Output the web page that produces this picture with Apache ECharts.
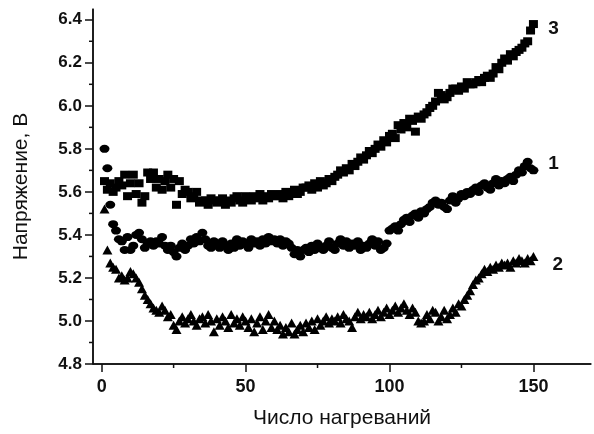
<!DOCTYPE html>
<html><head><meta charset="utf-8">
<script src="https://cdn.jsdelivr.net/npm/echarts@6/dist/echarts.min.js"></script>
<style>html,body{margin:0;padding:0;background:#fff}#c{width:594px;height:434px}</style>
</head><body><div id="c"></div>
<script>
// x: number of heating cycles (1..150)
var xStart = 1;
var xMin = -3, xMax = 170, yMin = 4.8, yMax = 6.45;
var xMajorTicks = [0, 50, 100, 150];
var xMinorTicks = [25, 75, 125];
var yMajorTicks = [4.8, 5.0, 5.2, 5.4, 5.6, 5.8, 6.0, 6.2, 6.4];
var yMinorTicks = [4.9, 5.1, 5.3, 5.5, 5.7, 5.9, 6.1, 6.3];
var curveLabels = ['3', '1', '2'];
var curveLabelAnchors = [[157, 6.36], [157, 5.73], [158.5, 5.26]];

// curve 3 (squares)
var series3 = [
 5.65,5.61,5.64,5.60,5.62,5.65,5.63,5.68,5.58,5.64,
 5.68,5.59,5.64,5.55,5.58,5.69,5.66,5.69,5.62,5.66,
 5.61,5.65,5.68,5.62,5.66,5.54,5.65,5.59,5.61,5.60,
 5.57,5.58,5.60,5.55,5.56,5.56,5.54,5.57,5.56,5.55,
 5.56,5.57,5.54,5.56,5.55,5.57,5.58,5.56,5.55,5.58,
 5.57,5.56,5.58,5.57,5.59,5.56,5.58,5.57,5.59,5.58,
 5.58,5.59,5.57,5.60,5.58,5.59,5.61,5.59,5.60,5.62,
 5.62,5.63,5.61,5.64,5.62,5.65,5.63,5.64,5.66,5.65,
 5.67,5.68,5.70,5.69,5.71,5.70,5.73,5.72,5.74,5.76,
 5.75,5.77,5.79,5.78,5.80,5.82,5.81,5.84,5.83,5.86,
 5.87,5.85,5.91,5.89,5.92,5.90,5.94,5.93,5.88,5.95,
 5.94,5.96,5.97,5.99,6.00,6.02,6.06,6.05,6.03,6.04,
 6.06,6.08,6.08,6.07,6.09,6.08,6.11,6.10,6.10,6.11,
 6.12,6.11,6.13,6.14,6.13,6.15,6.18,6.17,6.20,6.22,
 6.21,6.24,6.23,6.25,6.26,6.27,6.29,6.30,6.35,6.38
];
// curve 1 (circles)
var series1 = [
 5.80,5.71,5.54,5.45,5.42,5.38,5.37,5.33,5.39,5.33,
 5.35,5.40,5.41,5.38,5.34,5.36,5.37,5.35,5.37,5.36,
 5.39,5.35,5.33,5.35,5.32,5.30,5.34,5.36,5.33,5.35,
 5.38,5.36,5.39,5.37,5.41,5.38,5.35,5.34,5.37,5.36,
 5.34,5.37,5.35,5.33,5.36,5.34,5.38,5.35,5.37,5.36,
 5.34,5.38,5.36,5.37,5.35,5.38,5.36,5.39,5.37,5.38,
 5.36,5.38,5.35,5.37,5.36,5.34,5.31,5.33,5.30,5.33,
 5.34,5.32,5.35,5.33,5.36,5.34,5.33,5.35,5.37,5.34,
 5.33,5.36,5.38,5.35,5.37,5.34,5.36,5.35,5.37,5.33,
 5.35,5.34,5.36,5.38,5.35,5.37,5.33,5.34,5.36,5.42,
 5.43,5.44,5.42,5.45,5.47,5.48,5.46,5.49,5.50,5.48,
 5.51,5.50,5.52,5.53,5.55,5.56,5.54,5.55,5.53,5.52,
 5.56,5.58,5.55,5.57,5.59,5.58,5.60,5.59,5.61,5.62,
 5.60,5.63,5.64,5.62,5.61,5.64,5.66,5.63,5.65,5.64,
 5.66,5.67,5.65,5.68,5.70,5.69,5.72,5.74,5.71,5.70
];
// curve 2 (triangles)
var series2 = [
 5.52,5.33,5.27,5.25,5.24,5.20,5.21,5.19,5.20,5.23,
 5.22,5.20,5.18,5.15,5.12,5.10,5.08,5.06,5.05,5.04,
 5.07,5.05,5.02,5.03,4.98,4.96,5.00,5.02,4.99,5.01,
 5.03,5.00,4.98,5.01,5.02,4.99,5.03,5.00,4.95,5.01,
 4.98,5.02,5.00,4.97,5.03,4.99,5.01,4.98,5.02,5.00,
 4.97,5.01,4.95,4.99,5.02,4.96,5.00,5.03,4.97,5.00,
 4.96,4.98,4.94,4.97,4.95,4.99,4.94,4.96,4.98,4.95,
 4.99,4.97,5.00,4.96,5.01,4.98,5.00,5.02,4.99,5.01,
 5.00,5.02,4.99,5.03,5.01,5.00,4.97,5.02,5.04,5.01,
 5.03,5.02,5.04,5.01,5.03,5.05,5.02,5.04,5.06,5.03,
 5.05,5.07,5.04,5.06,5.08,5.05,5.03,5.06,5.04,5.00,
 4.99,5.00,5.03,5.01,5.05,5.04,5.00,5.02,5.05,5.01,
 5.03,5.06,5.04,5.08,5.07,5.10,5.12,5.14,5.17,5.19,
 5.20,5.22,5.24,5.23,5.25,5.24,5.26,5.25,5.27,5.26,
 5.27,5.25,5.28,5.27,5.29,5.28,5.27,5.29,5.28,5.30
];

function pairs(arr){ return arr.map(function(v,i){ return [xStart+i, v]; }); }

var FONT = 'Arial, "Liberation Sans", sans-serif';
var INK = '#111';
var chart = echarts.init(document.getElementById('c'), null, {renderer:'canvas'});
var axisLineStyle = {color:INK, width:1.5};

// frame items drawn through the axes' own scale:
// kind 0 = x minor tick, 1 = y minor tick, 2 = x axis line, 3 = y axis line
var frameData = xMinorTicks.map(function(v){ return [v, yMin, 0]; })
  .concat(yMinorTicks.map(function(v){ return [xMin, v, 1]; }))
  .concat([[xMin, yMin, 2], [xMin, yMin, 3]]);

chart.setOption({
  animation:false,
  backgroundColor:'#fff',
  grid:{left:93, right:3, top:9, bottom:64, containLabel:false},
  xAxis:{
    type:'value', min:xMin, max:xMax,
    name:'Число нагреваний', nameLocation:'middle', nameGap:44,
    nameTextStyle:{fontFamily:FONT, fontSize:21, color:INK},
    axisLine:{show:true, onZero:false, lineStyle:axisLineStyle},
    axisTick:{show:true, inside:false, length:8, lineStyle:axisLineStyle, customValues:xMajorTicks},
    axisLabel:{show:true, margin:14, fontFamily:FONT, fontWeight:'bold', fontSize:18, color:INK, customValues:xMajorTicks},
    splitLine:{show:false}
  },
  yAxis:{
    type:'value', min:yMin, max:yMax,
    name:'Напряжение, В', nameLocation:'middle', nameGap:61, nameRotate:90,
    nameTextStyle:{fontFamily:FONT, fontSize:21, color:INK},
    axisLine:{show:true, onZero:false, lineStyle:axisLineStyle},
    axisTick:{show:true, inside:false, length:8, lineStyle:axisLineStyle, customValues:yMajorTicks},
    axisLabel:{show:true, margin:11, fontFamily:FONT, fontWeight:'bold', fontSize:17, color:INK,
      customValues:yMajorTicks, formatter:function(v){return v.toFixed(1);}},
    splitLine:{show:false}
  },
  series:[
    {name:'3', type:'scatter', data:pairs(series3), symbol:'rect', symbolSize:[9,8],
      itemStyle:{color:'#000', opacity:1}, z:3},
    {name:'1', type:'scatter', data:pairs(series1), symbol:'circle', symbolSize:[10,8],
      itemStyle:{color:'#000', opacity:1}, z:3},
    {name:'2', type:'scatter', data:pairs(series2), symbol:'triangle', symbolSize:[10,9],
      itemStyle:{color:'#000', opacity:1}, z:3},
    {name:'frame', type:'custom', clip:false, silent:true, z:4,
      data:frameData,
      renderItem:function(params, api){
        var kind = api.value(2);
        var p = api.coord([api.value(0), api.value(1)]);
        var shape;
        if (kind === 0) shape = {x1:p[0], y1:p[1], x2:p[0], y2:p[1]+4};
        else if (kind === 1) shape = {x1:p[0], y1:p[1], x2:p[0]-4, y2:p[1]};
        else if (kind === 2) { var q = api.coord([xMax, yMin]); shape = {x1:p[0], y1:p[1], x2:q[0], y2:q[1]}; }
        else { var r = api.coord([xMin, yMax]); shape = {x1:p[0], y1:p[1], x2:r[0], y2:r[1]}; }
        return {type:'line', shape:shape, style:{stroke:INK, lineWidth:1.5}};
      }}
  ]
});
var gfx = curveLabels.map(function(t, i){
  var p = chart.convertToPixel({xAxisIndex:0, yAxisIndex:0}, curveLabelAnchors[i]);
  return {type:'text', x:p[0], y:p[1], z:10,
    style:{text:t, fontFamily:FONT, fontWeight:'bold', fontSize:19, fill:INK, align:'center', verticalAlign:'middle'}};
});
chart.setOption({graphic:gfx});
</script></body></html>
